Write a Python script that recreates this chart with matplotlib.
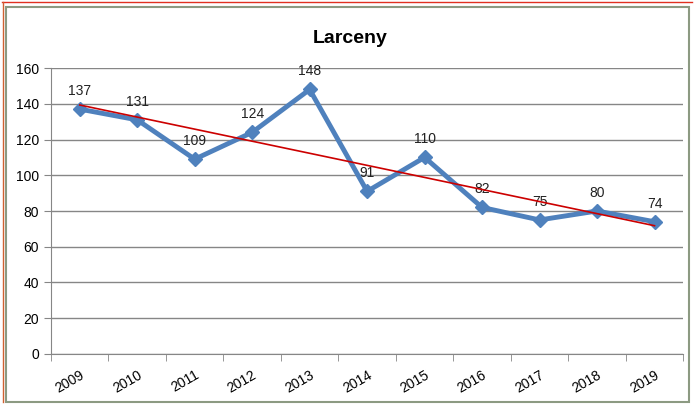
import numpy as np
import matplotlib
matplotlib.use("Agg")
from matplotlib import pyplot as plt
from matplotlib.patches import Rectangle

years = ["2009", "2010", "2011", "2012", "2013", "2014", "2015", "2016", "2017", "2018", "2019"]
larceny = [137, 131, 109, 124, 148, 91, 110, 82, 75, 80, 74]

plt.rcParams['font.family'] = ['Liberation Sans', 'DejaVu Sans']

fig = plt.figure(figsize=(6.94, 4.05), dpi=100)
ax = fig.add_axes([0.0735, 0.126, 0.911, 0.706])

x = np.arange(len(years))
ax.plot(x, larceny, color="#4f81bd", linewidth=3.5, marker="D", markersize=7, zorder=3)

# linear trendline
slope, intercept = np.polyfit(x, larceny, 1)
ax.plot(x, slope * x + intercept, color="#cc0000", linewidth=1.2, zorder=4)

for xi, v in zip(x, larceny):
    ax.annotate(str(v), (xi, v), xytext=(0, 8), textcoords="offset points",
                ha="center", va="bottom", fontsize=10, color="#222222")

ax.set_xlim(-0.5, len(years) - 0.5)
ax.set_ylim(0, 160)
ax.set_yticks(range(0, 161, 20))
ax.set_xticks(x)
ax.set_xticklabels(years, rotation=30, fontsize=10, ha="right", rotation_mode="anchor")
ax.set_xticks(np.arange(-0.5, len(years), 1), minor=True)
ax.tick_params(axis="x", which="major", length=0, pad=10)
ax.tick_params(axis="x", which="minor", length=5, color="#868686")
ax.tick_params(axis="y", length=5, color="#868686", labelsize=10)
ax.grid(axis="y", color="#868686", linewidth=1)
ax.set_axisbelow(True)
for s in ["top", "right"]:
    ax.spines[s].set_visible(False)
for s in ["left", "bottom"]:
    ax.spines[s].set_color("#868686")

fig.text(0.505, 0.905, "Larceny", ha="center", va="center", fontsize=14, fontweight="bold")

# outer border
fig.patches.append(Rectangle((0.008, 0.008), 0.985, 0.975, transform=fig.transFigure,
                             fill=False, edgecolor="#8c9a82", linewidth=1.5))
fig.add_artist(plt.Line2D([0.003, 0.997], [0.995, 0.995], color="#e03020", linewidth=1))
fig.add_artist(plt.Line2D([0.004, 0.004], [0.008, 0.995], color="#d06030", linewidth=1))

fig.savefig("out.png", dpi=100)
